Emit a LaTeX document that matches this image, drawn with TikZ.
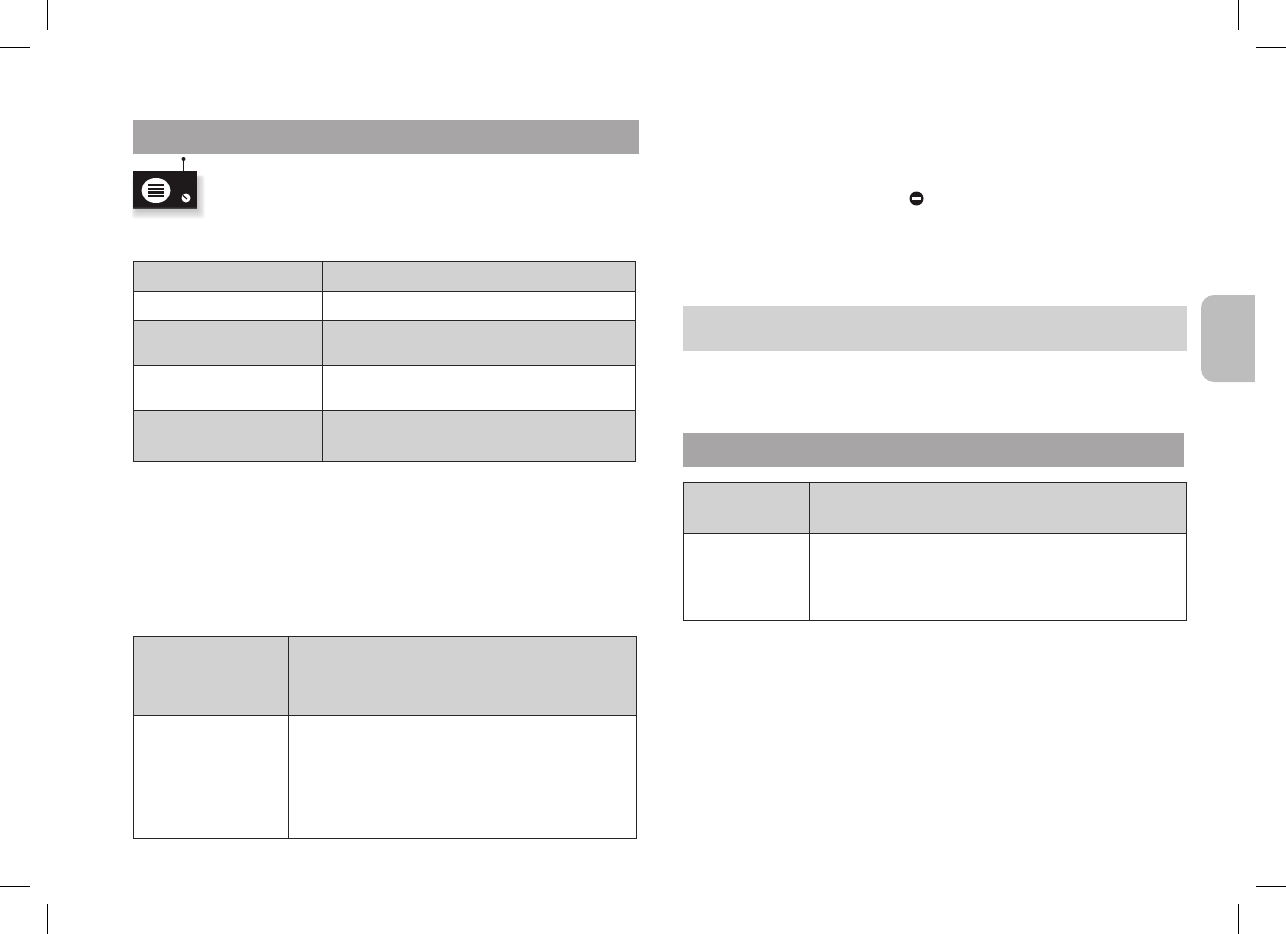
\documentclass[tikz,border=0pt]{standalone}
\definecolor{bardark}{HTML}{A7A5A6}
\definecolor{barlight}{HTML}{D2D2D2}
\definecolor{tabgray}{HTML}{BDBDBD}
\definecolor{radioblack}{HTML}{1E1A1B}
\tikzset{
  crop/.style={draw=black,line width=1pt},
  rule/.style={draw=black!85,line width=1pt},
  darkbar/.style={fill=bardark,draw=none},
  lightbar/.style={fill=barlight,draw=none},
}
\begin{document}
\begin{tikzpicture}[x=1pt,y=-1pt]
\useasboundingbox (0,0) rectangle (1286,934);
% crop marks
\draw[crop] (47.5,0) -- (47.5,30);
\draw[crop] (0,47.5) -- (30,47.5);
\draw[crop] (1238.5,0) -- (1238.5,30);
\draw[crop] (1256,47.5) -- (1286,47.5);
\draw[crop] (47.5,904) -- (47.5,934);
\draw[crop] (0,886.5) -- (30,886.5);
\draw[crop] (1238.5,904) -- (1238.5,934);
\draw[crop] (1256,886.5) -- (1286,886.5);
% bars
\fill[darkbar] (133,120) rectangle (639,153.5);
\fill[lightbar] (683,306) rectangle (1187,351);
\fill[darkbar] (683,433) rectangle (1184,467);
% side tab
\fill[tabgray,rounded corners=13pt] (1270,295) -- (1201,295) -- (1201,382) -- (1270,382) -- cycle;
\fill[white] (1255,290) rectangle (1275,387);
% radio icon: soft shadow built from nested layers
\foreach \i in {1,2,...,10}{
  \fill[black,opacity=0.022,rounded corners=3pt] (131+\i*0.5,175+\i*0.2) rectangle (206-\i*0.8,220-\i*0.9);
}
\fill[radioblack] (133,171) rectangle (197,207);
\foreach \i/\o in {0/0.9,1/0.75}{
  \fill[radioblack,opacity=\o] (133,207+\i*0.9) rectangle (197,207.9+\i*0.9);
}
\fill[radioblack] (183.5,159) circle[radius=2];
\draw[radioblack,line width=1.4pt] (183.5,160) -- (183.5,171);
\fill[white] (156,190.5) ellipse[x radius=14.5,y radius=12.5];
\foreach \y in {185,188.7,192.4,196}{
  \draw[radioblack,line width=2.3pt] (148,\y) -- (164,\y);
}
\fill[white] (186,198) circle[radius=4.5];
\draw[radioblack,line width=1.2pt] (183,195.5) -- (187,199);
% no-entry icon
\fill[radioblack] (916.5,198.5) circle[radius=7];
\fill[white] (912,197) rectangle (921,200.2);
% table 1
\fill[lightbar] (133.5,261.5) rectangle (636,291);
\fill[lightbar] (133.5,320.5) rectangle (636,365.5);
\fill[lightbar] (133.5,410.5) rectangle (636,461);
\draw[rule] (133.5,261.5) rectangle (635.5,461.5);
\draw[rule] (133.5,291.5) -- (635.5,291.5);
\draw[rule] (133.5,320.5) -- (635.5,320.5);
\draw[rule] (133.5,365.5) -- (635.5,365.5);
\draw[rule] (133.5,410.5) -- (635.5,410.5);
\draw[rule] (322.5,261.5) -- (322.5,461.5);
% table 2
\fill[lightbar] (133.5,636.5) rectangle (636.5,715.5);
\draw[rule] (133.5,636.5) rectangle (636.5,838.5);
\draw[rule] (133.5,715.5) -- (636.5,715.5);
\draw[rule] (288.5,636.5) -- (288.5,838.5);
% table 3
\fill[lightbar] (683.5,482.5) rectangle (1186.5,533.5);
\draw[rule] (683.5,482.5) rectangle (1186.5,620.5);
\draw[rule] (683.5,533.5) -- (1186.5,533.5);
\draw[rule] (809.5,482.5) -- (809.5,620.5);
\end{tikzpicture}
\end{document}
